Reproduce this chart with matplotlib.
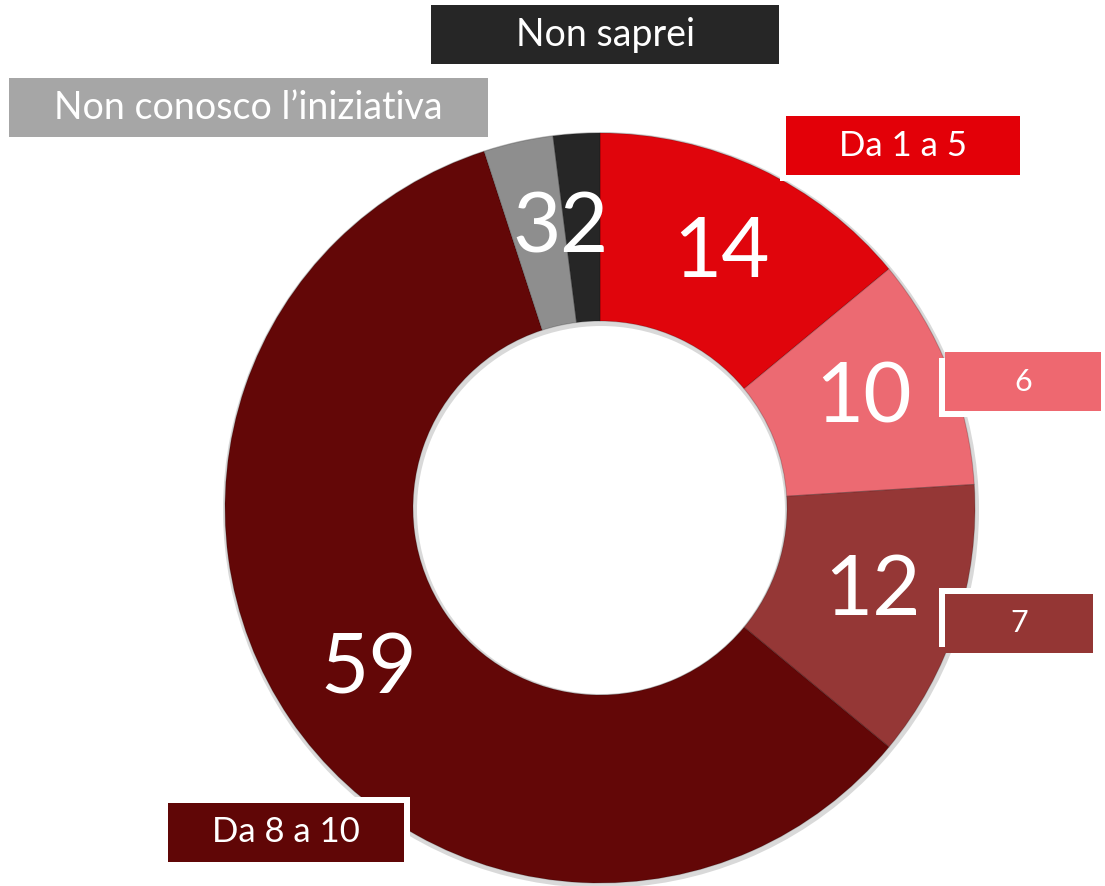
import matplotlib.pyplot as plt
from matplotlib.patches import Rectangle

plt.rcParams['font.family'] = ['Lato', 'DejaVu Sans']

W, H = 1105, 886

# data, clockwise from 12 o'clock
values = [14, 10, 12, 59, 3, 2]
colors = ['#E0050C', '#EC6A72', '#953736', '#630707', '#8E8E8E', '#262626']
value_text = ['14', '10', '12', '59', '3', '2']

box_labels = ['Da 1 a 5', '6', '7', 'Da 8 a 10', 'Non conosco l\u2019iniziativa', 'Non saprei']
box_colors = ['#E30008', '#EE6870', '#943634', '#600606', '#A6A6A6', '#262626']

# layout (pixel positions, y from top)
num_pos = [(722, 254), (864, 399), (873, 592), (369, 670), (537, 229), (583, 229)]
# x0, y0, x1, y1, white offset dx, dy, font size
box_pos = [
    (786, 116, 1020, 175, -6, 6, 25),
    (945, 352, 1101, 411, -6, 6, 22),
    (945, 594, 1093, 653, -6, -6, 22),
    (168, 803, 404, 862, 6, -6, 25),
    (9, 78, 488, 137, 0, 0, 27),
    (431, 5, 779, 64, 0, 0, 27),
]


def py(y):
    return H - y


fig = plt.figure(figsize=(W / 100, H / 100), dpi=100)
ax = fig.add_axes([0, 0, 1, 1])

cx, cy, r_out, r_in = 600, 508, 375, 187

# faint shadow under the ring
ax.pie([1], colors=['#D9D9D9'], radius=r_out + 3, center=(cx + 1, py(cy + 2)),
       wedgeprops=dict(width=r_out - r_in + 6, linewidth=0))

wedges, _ = ax.pie(values, colors=colors, startangle=90, counterclock=False,
                   radius=r_out, center=(cx, py(cy)),
                   wedgeprops=dict(width=r_out - r_in, edgecolor='#00000030', linewidth=0.8))

for txt, (x, y) in zip(value_text, num_pos):
    ax.text(x, py(y), txt, color='white', fontsize=60, ha='center', va='center')

for lab, col, (x0, y0, x1, y1, dx, dy, fs) in zip(box_labels, box_colors, box_pos):
    if dx or dy:
        ax.add_patch(Rectangle((x0 + dx, py(y1 + dy)), x1 - x0, y1 - y0,
                               facecolor='white', edgecolor='none', zorder=3))
    ax.add_patch(Rectangle((x0, py(y1)), x1 - x0, y1 - y0,
                           facecolor=col, edgecolor='none', zorder=4))
    ax.text((x0 + x1) / 2, py((y0 + y1) / 2), lab, color='white', fontsize=fs,
            ha='center', va='center', zorder=5)

ax.set_xlim(0, W)
ax.set_ylim(0, H)
ax.set_aspect('auto')
ax.axis('off')

fig.savefig('out.png', dpi=100)
